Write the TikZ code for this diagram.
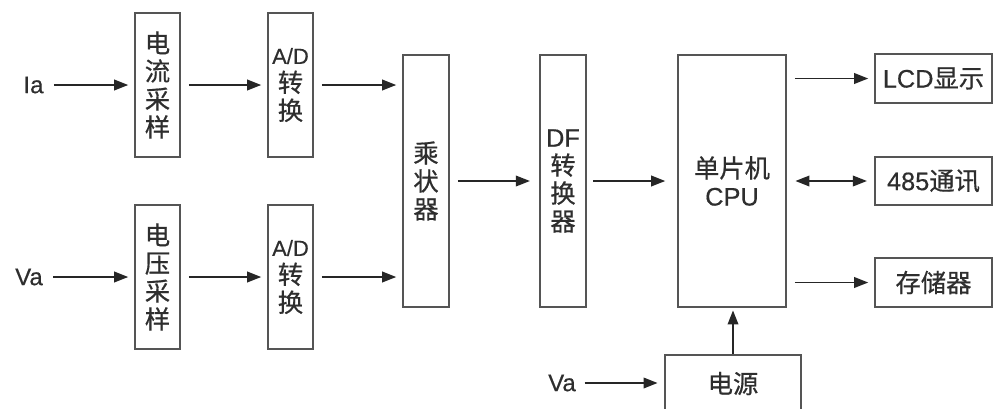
\documentclass[tikz,border=0pt]{standalone}
\usepackage{fontspec}
\setmainfont{Liberation Sans}
\newfontfamily\cjk[FakeBold=0.6]{Noto Sans CJK SC}
\newfontfamily\lat[FakeBold=0.4]{Liberation Sans}
\usetikzlibrary{arrows.meta}
\definecolor{txt}{HTML}{2E2E2E}
\definecolor{boxc}{HTML}{555555}
\definecolor{arr}{HTML}{262626}
\tikzset{
  blk/.style={draw=boxc, line width=1.2pt, inner sep=0pt, align=center, text=txt,
    font=\cjk\fontsize{19pt}{21pt}\selectfont},
  lbl/.style={inner sep=0pt, text=txt, font=\lat\fontsize{18pt}{20pt}\selectfont},
  conn/.style={draw=arr, line width=1.1pt, -{Triangle[length=10.5pt,width=8pt]},
    shorten >=4.5pt, shorten <=6pt},
  bidir/.style={draw=arr, line width=1.1pt, {Triangle[length=10.5pt,width=8pt]}-{Triangle[length=10.5pt,width=8pt]},
    shorten >=5.5pt, shorten <=6.5pt},
}
\newcommand{\ltx}[2]{{\lat\fontsize{#1}{#1}\selectfont #2}}
\begin{document}
\begin{tikzpicture}[x=0.75pt,y=-0.75pt]
\useasboundingbox (0,0) rectangle (1000,408);
\fill[white] (0,0) rectangle (1000,408);
% blocks
\node[blk, minimum width=33.75pt, minimum height=108pt] (cur) at (157.5,85) {电\\流\\采\\样};
\node[blk, minimum width=33.75pt, minimum height=108pt] (adt) at (290.5,85) {\ltx{16.5pt}{A/D}\\转\\换};
\node[blk, minimum width=33.75pt, minimum height=108pt] (vol) at (157.5,277) {电\\压\\采\\样};
\node[blk, minimum width=33.75pt, minimum height=108pt] (adb) at (290.5,277) {\ltx{16.5pt}{A/D}\\转\\换};
\node[blk, minimum width=34.5pt, minimum height=189pt] (mul) at (426,181) {乘\\状\\器};
\node[blk, minimum width=34.5pt, minimum height=189pt] (df) at (563,181) {\ltx{19pt}{DF}\\转\\换\\器};
\node[blk, minimum width=81pt, minimum height=189pt] (cpu) at (732,181) {单片机\\\ltx{19pt}{CPU}};
\node[blk, minimum width=87.75pt, minimum height=36.75pt] (lcd) at (933.5,78.5) {\ltx{19pt}{LCD}显示};
\node[blk, minimum width=87.75pt, minimum height=36pt] (com) at (933.5,181) {\ltx{19pt}{485}通讯};
\node[blk, minimum width=87.75pt, minimum height=36.75pt] (mem) at (933.5,282.5) {存储器};
\node[blk, minimum width=102pt, minimum height=43pt] (pwr) at (733,383.5) {电源};
% input labels
\node[lbl] (ia) at (33.5,85) {Ia};
\node[lbl] (va) at (29,277) {Va};
\node[lbl] (vp) at (562,383) {Va};
% connectors
\draw[conn, shorten <=7.5pt] (ia.east) -- (cur.west);
\draw[conn, shorten <=7.5pt] (va.east) -- (vol.west);
\draw[conn] (cur.east) -- (adt.west);
\draw[conn] (vol.east) -- (adb.west);
\draw[conn] (adt.east) -- (adt.east -| mul.west);
\draw[conn] (adb.east) -- (adb.east -| mul.west);
\draw[conn, shorten >=7pt] (mul.east) -- (df.west);
\draw[conn, shorten >=9pt, shorten <=5pt] (df.east) -- (cpu.west);
\draw[conn] (cpu.east |- lcd.west) -- (lcd.west);
\draw[bidir] (cpu.east |- com.west) -- (com.west);
\draw[conn] (cpu.east |- mem.west) -- (mem.west);
\draw[conn, shorten <=6.5pt, shorten >=5pt] (vp.east) -- (pwr.west |- vp.east);
\draw[conn, shorten <=0pt, shorten >=2pt] (pwr.north) -- (pwr.north |- cpu.south);
\end{tikzpicture}
\end{document}
